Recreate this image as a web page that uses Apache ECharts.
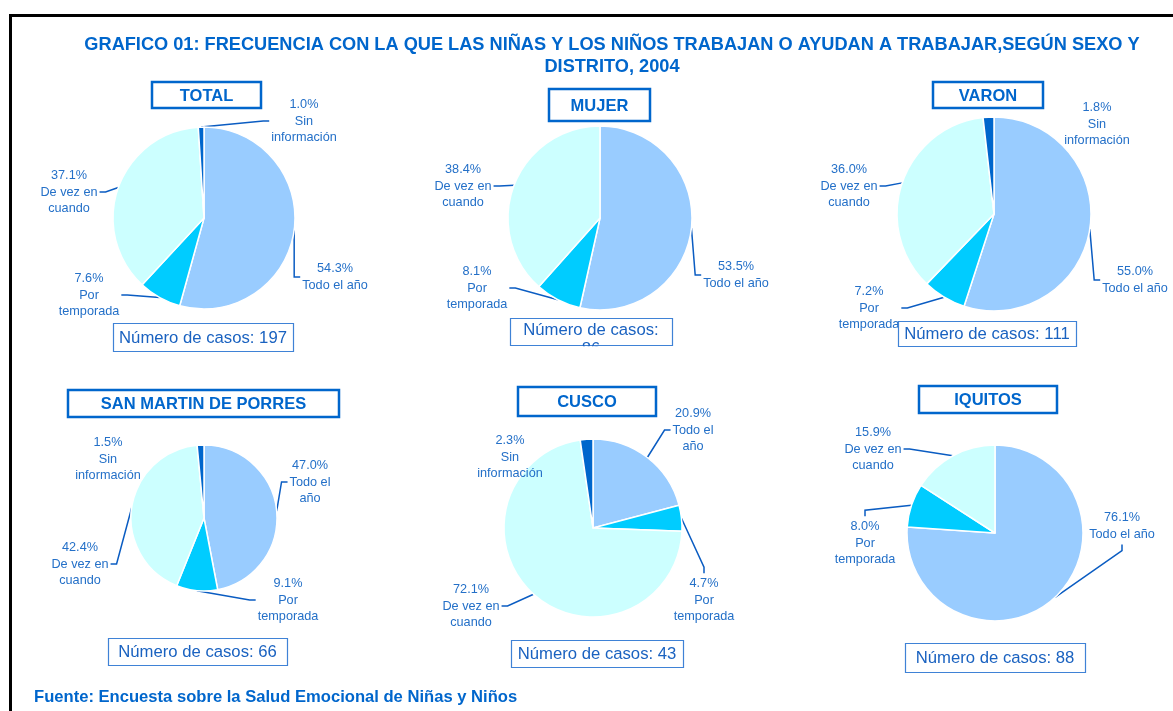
<!DOCTYPE html>
<html>
<head>
<meta charset="utf-8">
<script src="https://cdn.jsdelivr.net/npm/echarts@6/dist/echarts.min.js"></script>
<style>
  html, body { margin: 0; padding: 0; background: #fff; }
  #chart { width: 1173px; height: 711px; }
</style>
</head>
<body>
<div id="chart"></div>
<script>
// categories, in clockwise order from 12 o'clock
const categories = ["Todo el año", "Por temporada", "De vez en cuando", "Sin información"];
const chartNames = ["TOTAL", "MUJER", "VARON", "SAN MARTIN DE PORRES", "CUSCO", "IQUITOS"];

// percentages per pie (0 = not present)
const totalValues   = [54.3, 7.6, 37.1, 1.0];
const mujerValues   = [53.5, 8.1, 38.4, 0];
const varonValues   = [55.0, 7.2, 36.0, 1.8];
const smpValues     = [47.0, 9.1, 42.4, 1.5];
const cuscoValues   = [20.9, 4.7, 72.1, 2.3];
const iquitosValues = [76.1, 8.0, 15.9, 0];
const allValues = [totalValues, mujerValues, varonValues, smpValues, cuscoValues, iquitosValues];

const casos = [197, 86, 111, 66, 43, 88];

const sliceColors = ["#99CCFF", "#00CCFF", "#CCFFFF", "#0066CC"];
const blue = "#0066CC";
const labelBlue = "#2470C8";
const lineBlue = "#0A5CC2";
const FONT = "Arial, 'Liberation Sans', sans-serif";

// layout per pie: center, radius, boxes, label offsets from the center and where the leader line attaches
const layouts = [
  { cx: 204, cy: 218, r: 91, title: [152, 82, 109, 26], box: [113, 323, 180, 28],
    offsets: [[131, 59], [-115, 77], [-135, -26], [100, -97]], anchors: ["l", "r", "r", "l"], wrapTodo: false },
  { cx: 600, cy: 218, r: 92, title: [549, 89, 101, 32], box: [510, 318, 162, 27],
    offsets: [[136, 57], [-123, 70], [-137, -32], [0, 0]], anchors: ["l", "r", "r", ""], wrapTodo: false, clipCasos: true },
  { cx: 994, cy: 214, r: 97, title: [933, 82, 110, 26], box: [898, 321, 178, 25],
    offsets: [[141, 66], [-125, 94], [-145, -28], [103, -90]], anchors: ["l", "r", "r", ""], wrapTodo: false },
  { cx: 204, cy: 518, r: 73, title: [68, 390, 271, 27], box: [108, 638, 179, 27],
    offsets: [[106, -36], [84, 82], [-124, 46], [-96, -59]], anchors: ["l", "l", "r", ""], wrapTodo: true },
  { cx: 593, cy: 528, r: 89, title: [518, 387, 138, 29], box: [511, 640, 172, 27],
    offsets: [[100, -98], [111, 72], [-122, 78], [-83, -71]], anchors: ["l", "t", "r", ""], wrapTodo: true },
  { cx: 995, cy: 533, r: 88, title: [919, 386, 138, 27], box: [905, 643, 180, 29],
    offsets: [[127, -7], [-130, 10], [-122, -84], [0, 0]], anchors: ["b", "t", "r", ""], wrapTodo: false }
];

function displayName(k, lay) {
  if (k === 0) return lay.wrapTodo ? "Todo el\naño" : "Todo el año";
  if (k === 1) return "Por\ntemporada";
  if (k === 2) return "De vez en\ncuando";
  return "Sin\ninformación";
}

const chart = echarts.init(document.getElementById("chart"), null, { renderer: "canvas" });

const series = allValues.map((vals, s) => {
  const lay = layouts[s];
  const map = [];
  const data = [];
  vals.forEach((v, k) => {
    if (!v) return;
    map.push(k);
    data.push({
      name: categories[k],
      value: v,
      itemStyle: { color: sliceColors[k] },
      labelLine: { show: lay.anchors[k] !== "" }
    });
  });
  return {
    type: "pie",
    name: chartNames[s],
    center: [lay.cx, lay.cy],
    radius: [0, lay.r],
    startAngle: 90,
    clockwise: true,
    avoidLabelOverlap: false,
    animation: false,
    itemStyle: { borderColor: "#fff", borderWidth: 1.5 },
    label: {
      show: true,
      position: "outside",
      color: labelBlue,
      fontFamily: FONT,
      fontSize: 12.7,
      lineHeight: 16.5,
      align: "center",
      formatter: (p) => p.value.toFixed(1) + "%\n" + displayName(map[p.dataIndex], lay)
    },
    labelLine: { show: true, smooth: false, lineStyle: { color: lineBlue, width: 1.5 } },
    labelLayout: (p) => {
      const k = map[p.dataIndex];
      const off = lay.offsets[k];
      const x = lay.cx + off[0], y = lay.cy + off[1];
      const w = p.labelRect.width, h = p.labelRect.height;
      const res = { x: x, y: y, align: "center", verticalAlign: "middle" };
      const side = lay.anchors[k];
      const p0 = p.labelLinePoints && p.labelLinePoints[0];
      if (p0 && side) {
        let end, mid;
        if (side === "l") { end = [x - w / 2 - 2, y]; mid = [end[0] - 6, y]; }
        else if (side === "r") { end = [x + w / 2 + 2, y]; mid = [end[0] + 6, y]; }
        else if (side === "t") { end = [x, y - h / 2 - 2]; mid = [x, end[1] - 6]; }
        else { end = [x, y + h / 2 + 2]; mid = [x, end[1] + 6]; }
        res.labelLinePoints = [[p0[0], p0[1]], mid, end];
      }
      return res;
    },
    emphasis: { disabled: true },
    data: data
  };
});

// frame, headings and boxes
const graphic = [
  { type: "rect", shape: { x: 10.5, y: 15.5, width: 1300, height: 900 },
    style: { fill: null, stroke: "#000", lineWidth: 3 }, z: 0 },
  { type: "text", x: 612, y: 45, style: {
      text: "GRAFICO 01: FRECUENCIA CON LA QUE LAS NIÑAS Y LOS NIÑOS TRABAJAN O AYUDAN A TRABAJAR,SEGÚN SEXO Y",
      fill: blue, font: "bold 18.2px " + FONT, align: "center", verticalAlign: "middle" } },
  { type: "text", x: 612, y: 67, style: {
      text: "DISTRITO, 2004", fill: blue, font: "bold 18.2px " + FONT, align: "center", verticalAlign: "middle" } },
  { type: "text", x: 34, y: 697, style: {
      text: "Fuente: Encuesta sobre la Salud Emocional de Niñas y Niños",
      fill: blue, font: "bold 16.6px " + FONT, align: "left", verticalAlign: "middle" } }
];

layouts.forEach((lay, s) => {
  const t = lay.title;
  graphic.push({ type: "rect", shape: { x: t[0], y: t[1], width: t[2], height: t[3] },
    style: { fill: "#fff", stroke: blue, lineWidth: 2.5 }, z: 5 });
  graphic.push({ type: "text", x: t[0] + t[2] / 2, y: t[1] + t[3] / 2 + 1, z: 6, style: {
    text: chartNames[s], fill: blue, font: "bold 16.5px " + FONT, align: "center", verticalAlign: "middle" } });

  const b = lay.box;
  graphic.push({ type: "rect", shape: { x: b[0] + 0.5, y: b[1] + 0.5, width: b[2], height: b[3] },
    style: { fill: "#fff", stroke: "#3F82D6", lineWidth: 1.2 }, z: 5 });
  if (lay.clipCasos) {
    // the count falls on a second line and is cut off by the box, as in the source
    graphic.push({ type: "text", x: b[0] + b[2] / 2, y: b[1] + 3, z: 6, style: {
      text: "Número de casos:\n" + casos[s], fill: "#1A62C0", font: "16.7px " + FONT, lineHeight: 19,
      align: "center", verticalAlign: "top" } });
    graphic.push({ type: "rect", shape: { x: b[0] - 2, y: b[1] + b[3] + 1.3, width: b[2] + 4, height: 20 },
      style: { fill: "#fff" }, z: 7 });
  } else {
    graphic.push({ type: "text", x: b[0] + b[2] / 2, y: b[1] + b[3] / 2 + 1, z: 6, style: {
      text: "Número de casos: " + casos[s], fill: "#1A62C0", font: "16.7px " + FONT,
      align: "center", verticalAlign: "middle" } });
  }
});

chart.setOption({
  backgroundColor: "#fff",
  animation: false,
  series: series,
  graphic: graphic
});
</script>
</body>
</html>
